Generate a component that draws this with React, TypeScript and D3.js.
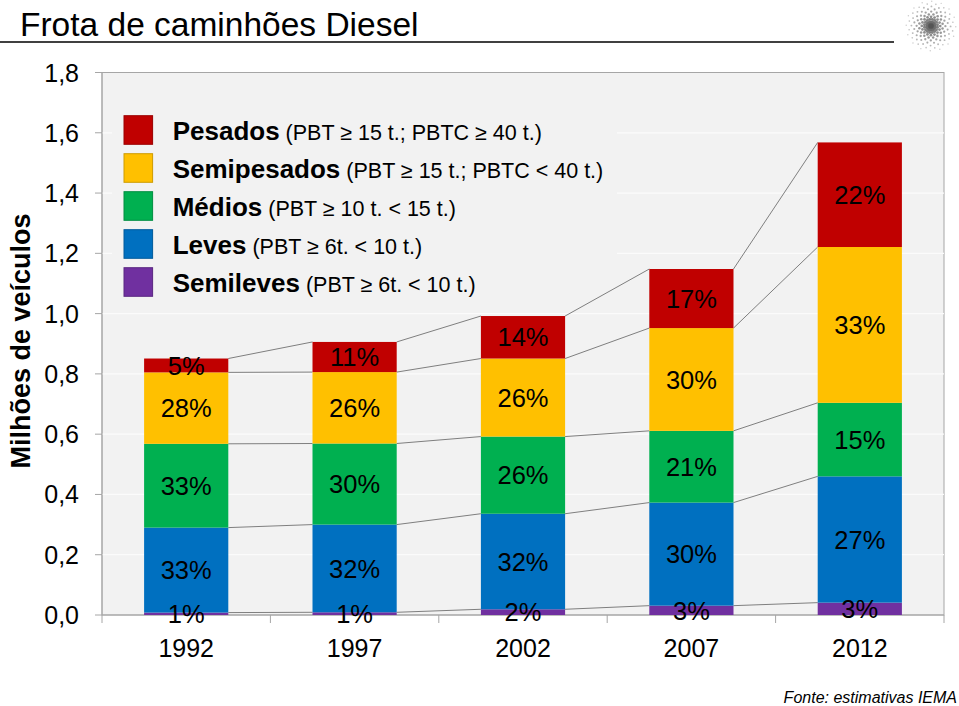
import React from "react";
import * as d3 from "d3";

const years = ["1992", "1997", "2002", "2007", "2012"];
const semileves = [0.008, 0.009, 0.019, 0.031, 0.041];
const leves = [0.282, 0.291, 0.317, 0.342, 0.419];
const medios = [0.278, 0.269, 0.256, 0.238, 0.244];
const semipesados = [0.237, 0.237, 0.259, 0.341, 0.517];
const pesados = [0.046, 0.1, 0.141, 0.196, 0.347];

const semilevesPct = ["1%", "1%", "2%", "3%", "3%"];
const levesPct = ["33%", "32%", "32%", "30%", "27%"];
const mediosPct = ["33%", "30%", "26%", "21%", "15%"];
const semipesadosPct = ["28%", "26%", "26%", "30%", "33%"];
const pesadosPct = ["5%", "11%", "14%", "17%", "22%"];

const seriesKeys = ["semileves", "leves", "medios", "semipesados", "pesados"];
const seriesColors = ["#7030A0", "#0070C0", "#00B050", "#FFC000", "#C00000"];
const legendNames = ["Pesados", "Semipesados", "Médios", "Leves", "Semileves"];
const legendDetails = [
  " (PBT ≥ 15 t.; PBTC ≥ 40 t.)",
  " (PBT ≥ 15 t.; PBTC < 40 t.)",
  " (PBT ≥ 10 t. < 15 t.)",
  " (PBT ≥ 6t. < 10 t.)",
  " (PBT ≥ 6t. < 10 t.)",
];
const legendColors = ["#C00000", "#FFC000", "#00B050", "#0070C0", "#7030A0"];
const yTicks = [0, 0.2, 0.4, 0.6, 0.8, 1.0, 1.2, 1.4, 1.6, 1.8];

const FONT = "'Liberation Sans', Arial, Helvetica, sans-serif";

export default function App() {
  const W = 959, H = 706;
  const left = 102, right = 944, top = 72.5, bottom = 615;

  const rows = years.map((yr, i) => ({
    year: yr,
    semileves: semileves[i],
    leves: leves[i],
    medios: medios[i],
    semipesados: semipesados[i],
    pesados: pesados[i],
  }));
  const pctMap: Record<string, string[]> = {
    semileves: semilevesPct,
    leves: levesPct,
    medios: mediosPct,
    semipesados: semipesadosPct,
    pesados: pesadosPct,
  };

  const x = d3.scaleBand<string>().domain(years).range([left, right]).paddingInner(0.5).paddingOuter(0.25);
  const y = d3.scaleLinear().domain([0, 1.8]).range([bottom, top]);
  const stack = d3.stack<any>().keys(seriesKeys);
  const stacked = stack(rows);
  const bw = x.bandwidth();
  const fmt = (v: number) => d3.format(".1f")(v).replace(".", ",");

  const boundaries = d3.range(years.length + 1).map((i) => left + i * (right - left) / years.length);

  // decorative logo dots (spiral)
  const logoDots: { cx: number; cy: number; r: number; o: number }[] = [];
  const lcx = 931, lcy = 26;
  const arms = 16;
  for (let a = 0; a < arms; a++) {
    for (let j = 0; j < 9; j++) {
      const rr = 4 + j * 2.6;
      const ang = (a / arms) * Math.PI * 2 + j * 0.2;
      logoDots.push({
        cx: lcx + rr * Math.cos(ang),
        cy: lcy + rr * Math.sin(ang),
        r: Math.max(0.7, 1.6 - j * 0.11),
        o: 0.9 - j * 0.07,
      });
    }
  }

  return (
    <svg width={W} height={H} style={{ position: "absolute", left: 0, top: 0, background: "#fff" }} fontFamily={FONT}>
      <rect x={0} y={0} width={W} height={H} fill="#fff" />
      {/* title */}
      <text x={20} y={36} fontSize={33.5} fill="#000">Frota de caminhões Diesel</text>
      <line x1={0} x2={894} y1={42} y2={42} stroke="#000" strokeWidth={1.5} />
      {/* logo */}
      <g>
        {logoDots.map((d, i) => (
          <circle key={i} cx={d.cx} cy={d.cy} r={d.r} fill="#6a6a6a" opacity={d.o} />
        ))}
        <circle cx={lcx} cy={lcy} r={3} fill="#555" />
      </g>

      {/* plot background */}
      <rect x={left} y={top} width={right - left} height={bottom - top} fill="#f2f2f2" stroke="#a6a6a6" strokeWidth={1} />
      {yTicks.slice(1, -1).map((t) => (
        <line key={t} x1={left} x2={right} y1={y(t)} y2={y(t)} stroke="#fbfbfb" strokeWidth={1.2} />
      ))}
      <rect x={112} y={106} width={505} height={196} fill="#f2f2f2" />

      {/* y axis */}
      <line x1={left} x2={left} y1={top} y2={bottom} stroke="#a6a6a6" />
      {yTicks.map((t) => (
        <g key={t}>
          <line x1={left - 7} x2={left} y1={y(t)} y2={y(t)} stroke="#a6a6a6" />
          <text x={79} y={y(t)} dy="0.36em" textAnchor="end" fontSize={25} fill="#000">{fmt(t)}</text>
        </g>
      ))}
      <text transform={`translate(30,${341}) rotate(-90)`} textAnchor="middle" fontSize={27} fontWeight="bold" fill="#000">
        Milhões de veículos
      </text>

      {/* x axis */}
      <line x1={left} x2={right} y1={bottom} y2={bottom} stroke="#a6a6a6" />
      {boundaries.map((b, i) => (
        <line key={i} x1={b} x2={b} y1={bottom} y2={bottom + 8} stroke="#a6a6a6" />
      ))}
      {years.map((yr) => (
        <text key={yr} x={(x(yr) as number) + bw / 2} y={657} textAnchor="middle" fontSize={25} fill="#000">{yr}</text>
      ))}

      {/* series lines */}
      {stacked.map((s) =>
        s.slice(0, -1).map((d, i) => (
          <line
            key={s.key + i}
            x1={(x(years[i]) as number) + bw}
            y1={y(d[1])}
            x2={x(years[i + 1]) as number}
            y2={y(s[i + 1][1])}
            stroke="#7f7f7f"
            strokeWidth={1}
          />
        ))
      )}

      {/* bars */}
      {stacked.map((s, si) => (
        <g key={s.key} fill={seriesColors[si]}>
          {s.map((d, i) => (
            <rect key={i} x={x(years[i]) as number} y={y(d[1])} width={bw} height={y(d[0]) - y(d[1])} />
          ))}
        </g>
      ))}

      {/* data labels */}
      {stacked.map((s) =>
        s.map((d, i) => (
          <text
            key={s.key + "l" + i}
            x={(x(years[i]) as number) + bw / 2}
            y={(y(d[0]) + y(d[1])) / 2}
            dy="0.36em"
            textAnchor="middle"
            fontSize={25.5}
            fill="#000"
          >
            {pctMap[s.key][i]}
          </text>
        ))
      )}

      {/* legend */}
      {legendNames.map((n, i) => (
        <g key={n}>
          <rect
            x={124}
            y={115.7 + i * 38}
            width={28.6}
            height={28.6}
            fill={legendColors[i]}
            stroke={d3.color(legendColors[i])!.darker(0.6).formatHex()}
            strokeWidth={1}
          />
          <text x={172.7} y={140 + i * 38} fill="#000">
            <tspan fontSize={26} fontWeight="bold">{n}</tspan>
            <tspan fontSize={21.5}>{legendDetails[i]}</tspan>
          </text>
        </g>
      ))}

      {/* source */}
      <text x={957} y={703} textAnchor="end" fontSize={16} fontStyle="italic" fill="#000">Fonte: estimativas IEMA</text>
    </svg>
  );
}
